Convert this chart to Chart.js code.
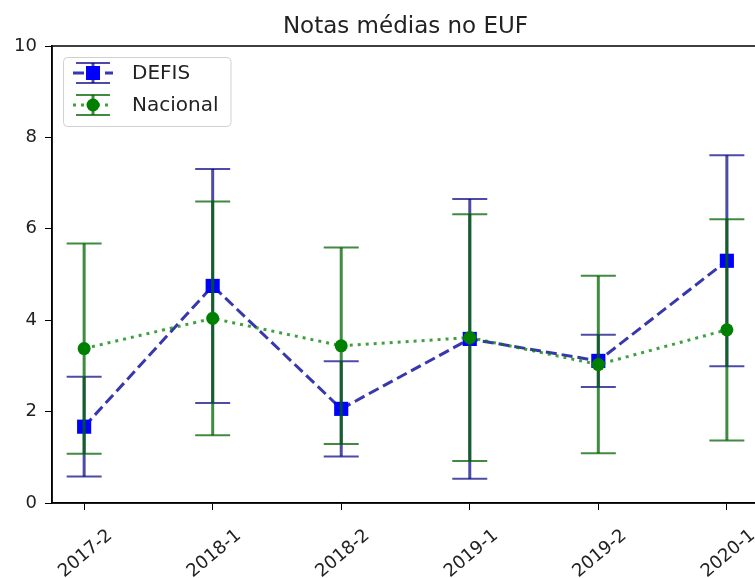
<!DOCTYPE html>
<html>
<head>
<meta charset="utf-8">
<script src="https://cdn.jsdelivr.net/npm/chart.js@4"></script>
<style>
  html, body { margin: 0; padding: 0; background: #fff; overflow: hidden; }
  #wrap { width: 780px; height: 578px; }
</style>
</head>
<body>
<div id="wrap"><canvas id="grafico" width="780" height="578"></canvas></div>
<script>
const semestres = ["2017-2", "2018-1", "2018-2", "2019-1", "2019-2", "2020-1"];
const defisMedia = [1.67, 4.75, 2.06, 3.59, 3.11, 5.30];
const defisErro = [1.09, 2.56, 1.04, 3.06, 0.57, 2.31];
const nacionalMedia = [3.38, 4.04, 3.44, 3.62, 3.03, 3.79];
const nacionalErro = [2.30, 2.56, 2.15, 2.70, 1.94, 2.42];
const yTicks = [0, 2, 4, 6, 8, 10];

const FONT = "'DejaVu Sans', sans-serif";

function pontos(media) {
    return media.map((v, i) => ({ x: i, y: v }));
}

// barras de erro desenhadas antes de cada serie
const errorBars = {
    id: "errorBars",
    beforeDatasetDraw(chart, args) {
        let ds = chart.data.datasets[args.index];
        let meta = args.meta;
        let y = chart.scales.y;
        let ctx = chart.ctx;
        ctx.save();
        ctx.strokeStyle = ds.errColor;
        meta.data.forEach((p, i) => {
            let m = ds.data[i].y;
            let e = ds.erro[i];
            let top = y.getPixelForValue(m + e);
            let bot = y.getPixelForValue(m - e);
            ctx.lineWidth = 3;
            ctx.beginPath();
            ctx.moveTo(p.x, top);
            ctx.lineTo(p.x, bot);
            ctx.stroke();
            ctx.lineWidth = 2;
            ctx.beginPath();
            ctx.moveTo(p.x - 17.5, top);
            ctx.lineTo(p.x + 17.5, top);
            ctx.moveTo(p.x - 17.5, bot);
            ctx.lineTo(p.x + 17.5, bot);
            ctx.stroke();
        });
        ctx.restore();
    }
};

const frame = {
    id: "frame",
    afterDraw(chart) {
        let a = chart.chartArea;
        let ctx = chart.ctx;
        ctx.save();
        ctx.strokeStyle = "#000";
        ctx.lineWidth = 1.5;
        ctx.strokeRect(a.left, a.top, a.right - a.left, a.bottom - a.top);
        ctx.restore();
    }
};

const legenda = {
    id: "legenda",
    afterDraw(chart) {
        let ctx = chart.ctx;
        ctx.save();
        ctx.font = "20px " + FONT;
        let textX = 132;
        let w = Math.max(...chart.data.datasets.map(d => ctx.measureText(d.label).width));
        let bx = 63, by = 57, bw = textX + w + 12 - bx, bh = 69;
        ctx.fillStyle = "rgba(255,255,255,0.8)";
        ctx.strokeStyle = "#d0d0d0";
        ctx.lineWidth = 1;
        ctx.beginPath();
        ctx.roundRect(bx + 0.5, by + 0.5, bw, bh, 4);
        ctx.fill();
        ctx.stroke();

        chart.data.datasets.forEach((ds, k) => {
            let cy = 73 + k * 32;
            let cx = 93;
            // linha
            ctx.strokeStyle = ds.borderColor;
            ctx.lineWidth = 3;
            ctx.setLineDash(ds.borderDash);
            ctx.beginPath();
            ctx.moveTo(73, cy);
            ctx.lineTo(113, cy);
            ctx.stroke();
            ctx.setLineDash([]);
            // barra
            ctx.strokeStyle = ds.errColor;
            ctx.beginPath();
            ctx.moveTo(cx, cy - 10);
            ctx.lineTo(cx, cy + 10);
            ctx.stroke();
            ctx.lineWidth = 2;
            ctx.beginPath();
            ctx.moveTo(cx - 17, cy - 10);
            ctx.lineTo(cx + 17, cy - 10);
            ctx.moveTo(cx - 17, cy + 10);
            ctx.lineTo(cx + 17, cy + 10);
            ctx.stroke();
            // marcador
            ctx.fillStyle = ds.pointBackgroundColor;
            if (ds.pointStyle === "rect") {
                ctx.fillRect(cx - 7, cy - 7, 14, 14);
            } else {
                ctx.beginPath();
                ctx.arc(cx, cy, 6.5, 0, Math.PI * 2);
                ctx.fill();
            }
            ctx.fillStyle = "#222";
            ctx.textBaseline = "middle";
            ctx.fillText(ds.label, textX, cy + 1);
        });
        ctx.restore();
    }
};

let chart = new Chart(document.getElementById("grafico"), {
    type: "line",
    data: {
        datasets: [
            {
                label: "DEFIS",
                data: pontos(defisMedia),
                erro: defisErro,
                errColor: "rgba(0,0,128,0.7)",
                borderColor: "rgba(20,20,160,0.85)",
                borderWidth: 3,
                borderDash: [11, 5],
                pointStyle: "rect",
                pointRadius: 10,
                pointBackgroundColor: "#0000ff",
                pointBorderWidth: 0,
                fill: false,
                order: 1
            },
            {
                label: "Nacional",
                data: pontos(nacionalMedia),
                erro: nacionalErro,
                errColor: "rgba(0,100,0,0.75)",
                borderColor: "rgba(0,128,0,0.75)",
                borderWidth: 3,
                borderDash: [3, 5],
                pointStyle: "circle",
                pointRadius: 6.5,
                pointBackgroundColor: "#008000",
                pointBorderWidth: 0,
                fill: false,
                order: 0
            }
        ]
    },
    options: {
        responsive: false,
        animation: false,
        layout: { padding: { left: 0, right: 21, top: 0, bottom: 0 } },
        plugins: {
            legend: { display: false },
            tooltip: { enabled: false },
            title: {
                display: true,
                text: "Notas médias no EUF",
                fullSize: false,
                color: "#222",
                font: { family: FONT, size: 23, weight: "normal" },
                padding: { top: 13, bottom: 5.4 }
            }
        },
        scales: {
            x: {
                type: "linear",
                min: -0.25,
                max: 5.25,
                afterBuildTicks: s => { s.ticks = semestres.map((_, i) => ({ value: i })); },
                afterFit: s => { s.height = 75; },
                grid: { drawOnChartArea: false, drawTicks: true, tickLength: 7, color: "#000" },
                border: { display: true, color: "#000", width: 1.5 },
                ticks: {
                    callback: v => semestres[v],
                    color: "#222",
                    font: { family: FONT, size: 18 },
                    minRotation: 40,
                    maxRotation: 40,
                    labelOffset: 26,
                    padding: 15
                }
            },
            y: {
                min: 0,
                max: 10,
                afterBuildTicks: s => { s.ticks = yTicks.map(v => ({ value: v })); },
                afterFit: s => { s.width = 52; },
                grid: { drawOnChartArea: false, drawTicks: true, tickLength: 7, color: "#000" },
                border: { display: true, color: "#000", width: 1.5 },
                ticks: {
                    color: "#222",
                    font: { family: FONT, size: 18 },
                    padding: 8
                }
            }
        }
    },
    plugins: [errorBars, frame, legenda]
});
</script>
</body>
</html>
